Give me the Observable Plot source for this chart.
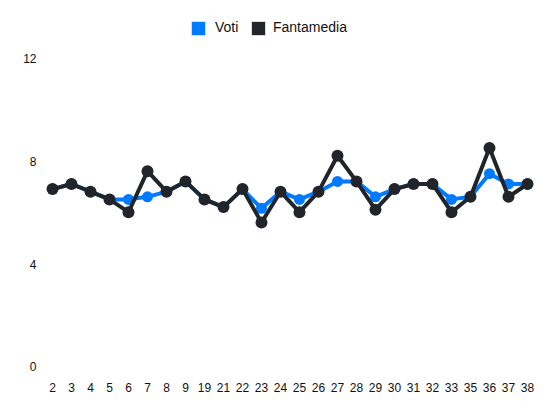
<!DOCTYPE html>
<html>
<head>
<meta charset="utf-8">
<script src="https://cdn.jsdelivr.net/npm/d3@7"></script>
<script src="https://cdn.jsdelivr.net/npm/@observablehq/plot@0.6"></script>
<style>
  body { margin: 0; background: #fff; font-family: "Liberation Sans", Arial, sans-serif; }
  #legend { position: relative; height: 45px; width: 550px; font-size: 14px; color: #111; }
  .sw { position: absolute; top: 21px; width: 13px; height: 13px; border: 0.5px solid #ddd; }
  .lb { position: absolute; top: 18px; line-height: 18px; }
</style>
</head>
<body>
<div id="legend">
  <div class="sw" style="left:191px;background:#007bff"></div><div class="lb" style="left:215px">Voti</div>
  <div class="sw" style="left:251px;background:#212529"></div><div class="lb" style="left:273px">Fantamedia</div>
</div>
<div id="chart"></div>
<script>
const giornate = ["2","3","4","5","6","7","8","9","19","21","22","23","24","25","26","27","28","29","30","31","32","33","35","36","37","38"];
const voti = [6.95,7.15,6.85,6.55,6.55,6.65,6.85,7.25,6.55,6.25,6.95,6.2,6.85,6.55,6.85,7.25,7.25,6.65,6.95,7.15,7.15,6.55,6.65,7.55,7.15,7.15];
const fantamedia = [6.95,7.15,6.85,6.55,6.05,7.65,6.85,7.25,6.55,6.25,6.95,5.65,6.85,6.05,6.85,8.25,7.25,6.15,6.95,7.15,7.15,6.05,6.65,8.55,6.65,7.15];
const yTicks = [0,4,8,12];

const dV = giornate.map((g,i)=>({g, v: voti[i]}));
const dF = giornate.map((g,i)=>({g, v: fantamedia[i]}));

const chart = Plot.plot({
  width: 550,
  height: 367,
  marginTop: 14,
  marginBottom: 45,
  marginLeft: 50,
  marginRight: 22,
  style: { fontFamily: "Liberation Sans, Arial, sans-serif", fontSize: "12px", color: "#111", background: "#fff" },
  x: { type: "point", domain: giornate, padding: 0, label: null },
  y: { domain: [0, 12], label: null },
  marks: [
    Plot.axisY({ ticks: yTicks, tickSize: 0, tickPadding: 14, label: null, fontSize: 12 }),
    Plot.axisX({ tickSize: 0, tickPadding: 16, label: null, fontSize: 12 }),
    Plot.line(dV, { x: "g", y: "v", stroke: "#007bff", strokeWidth: 4 }),
    Plot.dot(dV, { x: "g", y: "v", fill: "#007bff", r: 5.5 }),
    Plot.line(dF, { x: "g", y: "v", stroke: "#212529", strokeWidth: 4 }),
    Plot.dot(dF, { x: "g", y: "v", fill: "#212529", r: 6 })
  ]
});
document.getElementById("chart").appendChild(chart);
</script>
</body>
</html>
